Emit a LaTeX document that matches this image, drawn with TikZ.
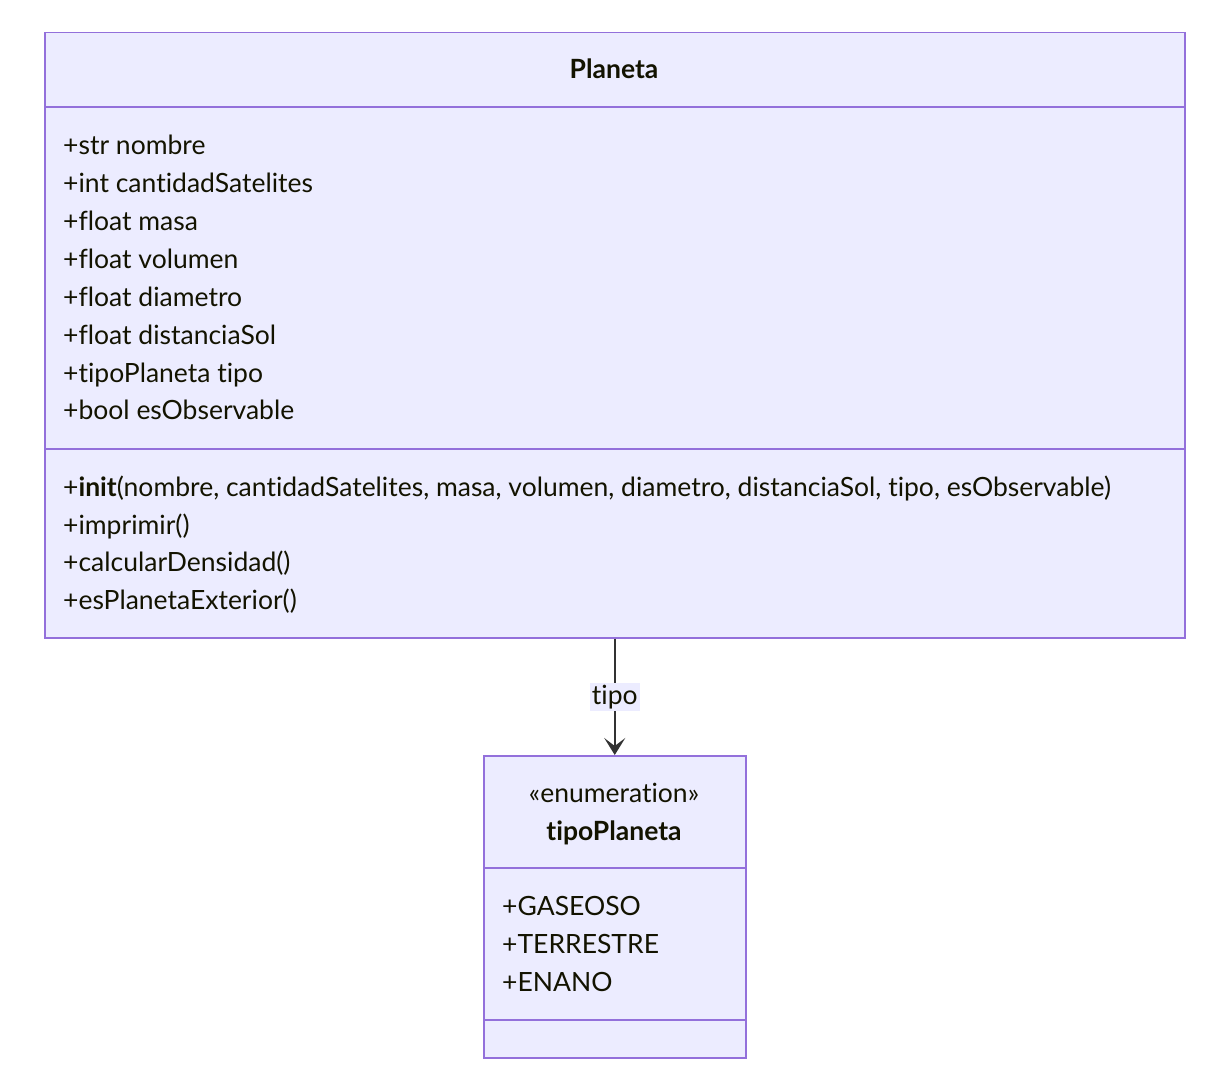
\documentclass[tikz,border=0pt]{standalone}
\usepackage{fontspec}
\setmainfont{Lato}[Ligatures=NoCommon]
\usetikzlibrary{arrows.meta}
\definecolor{boxfill}{HTML}{ECECFF}
\definecolor{boxline}{HTML}{9370DB}
\definecolor{txt}{HTML}{131300}
\definecolor{edge}{HTML}{333333}
\tikzset{
  classbox/.style={draw=boxline, fill=boxfill, line width=1.5pt, inner sep=0pt, anchor=north west},
  sepline/.style={draw=boxline, line width=1.5pt},
  member/.style={anchor=base west, inner sep=0pt, text=txt, font=\fontsize{26.5}{30}\selectfont},
  title/.style={anchor=base, inner sep=0pt, text=txt, font=\fontsize{26.5}{30}\selectfont\bfseries},
  stereo/.style={anchor=base, inner sep=0pt, text=txt, font=\fontsize{26.5}{30}\selectfont},
  rel/.style={draw=edge, line width=1.5pt, -{Stealth[length=17pt,width=21pt,inset=8pt]}},
  edgelabel/.style={fill=boxfill, text=txt, inner sep=2pt, font=\fontsize{26.5}{30}\selectfont}
}
\begin{document}
\begin{tikzpicture}[x=1pt,y=-1pt]
\useasboundingbox (0,0) rectangle (1228,1078);
% Planeta class
\node[classbox, minimum width=1140pt, minimum height=605pt] (planeta) at (44,32) {};
\draw[sepline] (44,107) -- (1184,107);
\draw[sepline] (44,449) -- (1184,449);
\node[title] (ptitle) at (614,78.5) {Planeta};
\node[member] (a1) at (63,154.5) {+str nombre};
\node[member] (a2) at (63,192.5) {+int cantidadSatelites};
\node[member] (a3) at (63,230.5) {+float masa};
\node[member] (a4) at (63,268.5) {+float volumen};
\node[member] (a5) at (63,306.5) {+float diametro};
\node[member] (a6) at (63,344.5) {+float distanciaSol};
\node[member] (a7) at (63,382.5) {+tipoPlaneta tipo};
\node[member] (a8) at (63,419.5) {+bool esObservable};
\node[member] (m1) at (63,496.5) {+\textbf{init}(nombre, cantidadSatelites, masa, volumen, diametro, distanciaSol, tipo, esObservable)};
\node[member] (m2) at (63,534.5) {+imprimir()};
\node[member] (m3) at (63,571.5) {+calcularDensidad()};
\node[member] (m4) at (63,609.5) {+esPlanetaExterior()};
% tipoPlaneta enumeration
\node[classbox, minimum width=262pt, minimum height=302pt] (enum) at (483,755) {};
\draw[sepline] (483,868) -- (745,868);
\draw[sepline] (483,1020) -- (745,1020);
\node[stereo] (estereo) at (614,802.5) {«enumeration»};
\node[title] (etitle) at (614,840.5) {tipoPlaneta};
\node[member] (e1) at (502,915.5) {+GASEOSO};
\node[member] (e2) at (502,953.5) {+TERRESTRE};
\node[member] (e3) at (502,991.5) {+ENANO};
% relation
\draw[rel] (planeta.south) -- node[edgelabel] (lbl) {tipo} (enum.north);
\end{tikzpicture}
\end{document}
